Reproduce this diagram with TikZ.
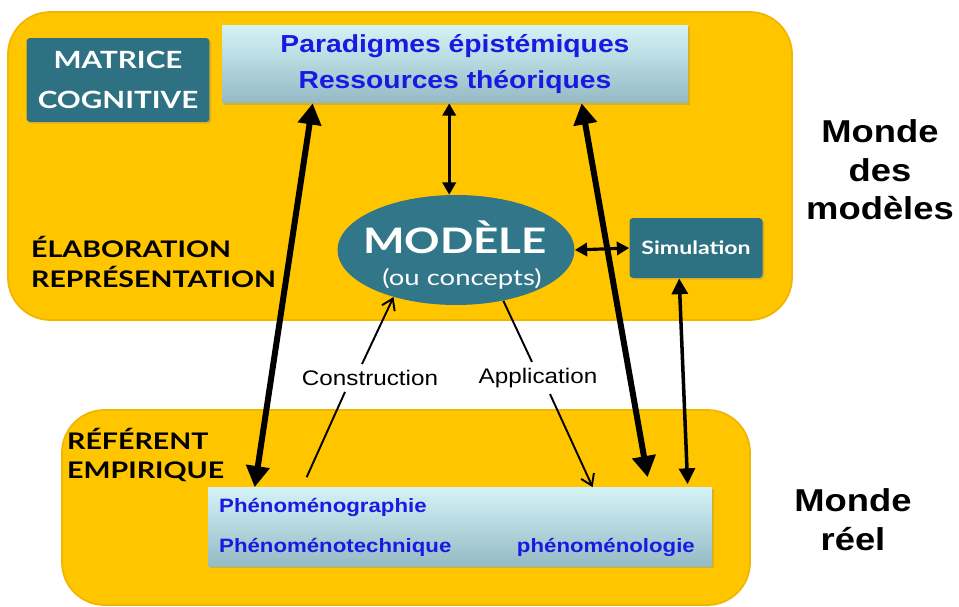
\documentclass[tikz,border=0pt]{standalone}
\usepackage{fontspec}
\setmainfont{Liberation Sans}[FakeStretch=1.15]
\newfontfamily\gillfont{Lato}[FakeStretch=1.25]
\usetikzlibrary{arrows.meta,shapes.geometric,shadows}

\definecolor{panelyellow}{RGB}{255,198,0}
\definecolor{paneledge}{RGB}{240,182,0}
\definecolor{tealbox}{RGB}{46,113,130}
\definecolor{tealoval}{RGB}{50,118,138}
\definecolor{labelblue}{RGB}{25,25,225}
\definecolor{paletop}{RGB}{212,243,247}
\definecolor{palebottom}{RGB}{148,186,196}

\tikzstyle{panel}=[fill=panelyellow, draw=paneledge, line width=1pt, rounded corners=0.85cm]
\tikzstyle{tealrect}=[fill=tealbox, rounded corners=2pt, text=white, inner sep=0pt, align=center,
    drop shadow={opacity=0.3, shadow xshift=1pt, shadow yshift=-1pt}]
\tikzstyle{palerect}=[top color=paletop, bottom color=palebottom, inner sep=0pt, align=center,
    drop shadow={opacity=0.3, shadow xshift=1pt, shadow yshift=-1pt}]
\tikzstyle{bluetext}=[text=labelblue, font={\bfseries\fontsize{11}{13}\selectfont}]
\tikzstyle{capslabel}=[anchor=west, align=left, font={\gillfont\bfseries\fontsize{13}{17}\selectfont}]
\tikzstyle{mondelabel}=[align=center, font={\bfseries\fontsize{18}{22}\selectfont}]
\tikzstyle{steplabel}=[font={\fontsize{12}{14}\selectfont}]
\tikzstyle{bigarrow}=[line width=3.4pt, {Triangle[length=12pt,width=13pt]}-{Triangle[length=12pt,width=13pt]}]
\tikzstyle{midarrow}=[line width=2pt, {Triangle[length=9pt,width=9pt]}-{Triangle[length=9pt,width=9pt]}]
\tikzstyle{smallarrow}=[line width=1.8pt, {Triangle[length=7pt,width=7.5pt]}-{Triangle[length=7pt,width=7.5pt]}]
\tikzstyle{thinline}=[line width=1.1pt]

\begin{document}
\begin{tikzpicture}[x=0.02cm, y=-0.02cm]
    \fill [white] (0,0) rectangle (959,607);
    \useasboundingbox (0,0) rectangle (959,607);

    % yellow panels
    \draw [panel] (8,12) rectangle (792,320);
    \draw [panel] (62,410) rectangle (750,605);

    % monde des modeles
    \node [palerect, minimum width=9.32cm, minimum height=1.56cm, text=labelblue,
        font={\bfseries\fontsize{14}{20.5}\selectfont}] (theory) at (455,64)
        {Paradigmes épistémiques\\Ressources théoriques};
    \node [tealrect, minimum width=3.66cm, minimum height=1.68cm,
        font={\gillfont\bfseries\fontsize{13.5}{23}\selectfont}] (matrice) at (118,80) {MATRICE\\COGNITIVE};
    \node [tealrect, minimum width=2.66cm, minimum height=1.2cm,
        font={\gillfont\bfseries\fontsize{10.5}{12}\selectfont}] (sim) at (696,248) {Simulation};
    \node [ellipse, fill=tealoval, minimum width=4.74cm, minimum height=2.2cm, inner sep=0pt] (modele) at (456,250) {};
    \node [text=white, font={\gillfont\bfseries\fontsize{20}{22}\selectfont}] (modeletitle) at (455,237) {MODÈLE};
    \node [text=white, font={\gillfont\fontsize{12.5}{14}\selectfont}] (modelesub) at (462,279) {(ou concepts)};
    \node [capslabel] (elab) at (25,262) {ÉLABORATION\\REPRÉSENTATION};
    \node [mondelabel] (mmodeles) at (880,170) {Monde\\des\\modèles};

    % monde reel
    \node [palerect, minimum width=10.08cm, minimum height=1.58cm] (reel) at (460,527) {};
    \node [bluetext, anchor=west] (graphie) at (213,507) {Phénoménographie};
    \node [bluetext, anchor=west] (technique) at (213,547) {Phénoménotechnique};
    \node [bluetext, anchor=east] (logie) at (701,547) {phénoménologie};
    \node [capslabel] (referent) at (61,455) {RÉFÉRENT\\EMPIRIQUE};
    \node [mondelabel] (mreel) at (853,520) {Monde\\réel};

    % construction / application
    \node [steplabel] (constr) at (370,378) {Construction};
    \node [steplabel] (appl) at (538,378) {Application};

    % connectors
    \draw [bigarrow] ([xshift=0.94cm]reel.north west) -- ([xshift=1.82cm]theory.south west);
    \draw [bigarrow] ([xshift=7.2cm]theory.south west) -- ([xshift=8.8cm,yshift=0.2cm]reel.north west);
    \draw [midarrow] ([xshift=1cm]sim.south west) -- ([xshift=9.6cm,yshift=0.06cm]reel.north west);
    \draw [smallarrow] (modele.97) -- (modele.97 |- theory.south);
    \draw [smallarrow] (modele.east) -- (sim.west);
    \draw [thinline] ([xshift=1.98cm,yshift=0.2cm]reel.north west) -- ([xshift=-0.5cm]constr.south);
    \draw [thinline, -{Straight Barb[length=6pt,width=8pt]}] ([xshift=-0.16cm]constr.north) -- (modele.217);
    \draw [thinline] (modele.313) -- ([xshift=-0.12cm]appl.north);
    \draw [thinline, -{Straight Barb[length=6pt,width=8pt]}] ([xshift=0.24cm]appl.south) -- ([xshift=7.7cm]reel.north west);
\end{tikzpicture}
\end{document}
